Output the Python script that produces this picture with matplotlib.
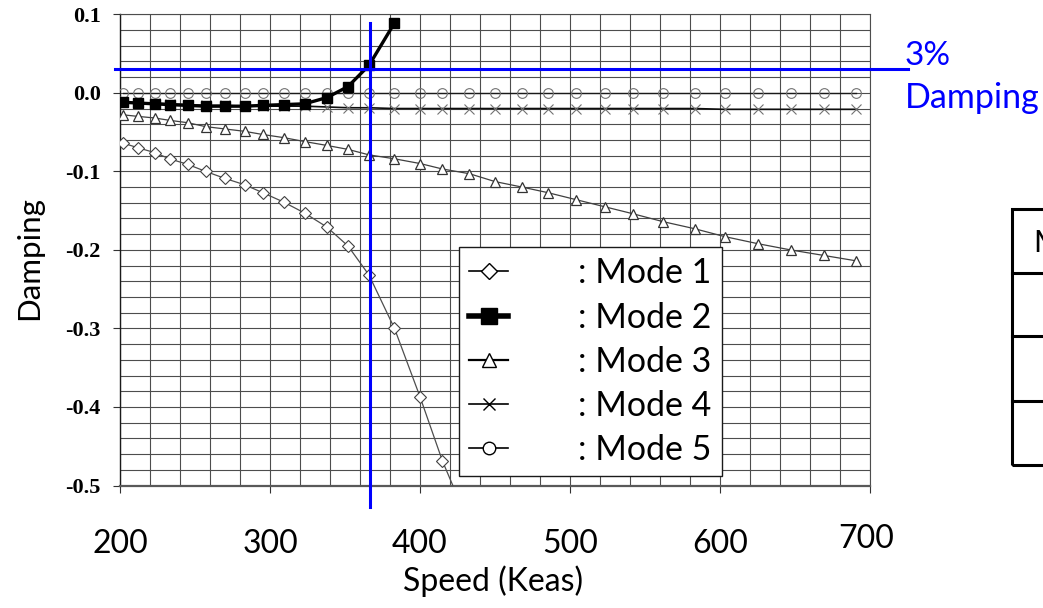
import numpy as np
import matplotlib
matplotlib.use('Agg')
import matplotlib.pyplot as plt
from matplotlib.lines import Line2D
from matplotlib.patches import Rectangle
from matplotlib.transforms import ScaledTranslation

plt.rcParams['font.family'] = ['Lato', 'DejaVu Sans']

# speed points (Keas) shared by all modes
speed = [202, 212, 223, 233, 245, 257, 270, 283, 295, 309, 323, 338, 352, 366, 383,
         400, 415, 433, 450, 468, 485, 504, 523, 542, 562, 583, 603, 625, 647, 669, 691]

mode1 = [-0.064, -0.070, -0.076, -0.084, -0.091, -0.100, -0.109, -0.117, -0.127,
         -0.139, -0.153, -0.171, -0.195, -0.232, -0.300, -0.387, -0.469, -0.55]
mode2 = [-0.012, -0.013, -0.014, -0.015, -0.016, -0.017, -0.017, -0.017, -0.016,
         -0.015, -0.014, -0.006, 0.008, 0.035, 0.089]
mode3 = [-0.028, -0.030, -0.032, -0.035, -0.038, -0.043, -0.046, -0.049, -0.053,
         -0.057, -0.062, -0.067, -0.072, -0.079, -0.084, -0.090, -0.097, -0.103,
         -0.113, -0.120, -0.127, -0.136, -0.145, -0.154, -0.164, -0.173, -0.183,
         -0.192, -0.200, -0.207, -0.214]
mode4 = [-0.012, -0.013, -0.013, -0.014, -0.015, -0.016, -0.016, -0.017, -0.017,
         -0.017, -0.017, -0.018, -0.019, -0.019, -0.020, -0.020, -0.020, -0.020,
         -0.020, -0.020, -0.020, -0.020, -0.020, -0.020, -0.020, -0.020, -0.021,
         -0.021, -0.021, -0.021, -0.021]
mode5 = [0.0] * len(speed)

legend_labels = [': Mode 1', ': Mode 2', ': Mode 3', ': Mode 4', ': Mode 5']
x_ticks = [200, 300, 400, 500, 600, 700]
y_ticks = [-0.5, -0.4, -0.3, -0.2, -0.1, 0.0, 0.1]

# reference lines
flutter_speed = 367
damping_limit = 0.03

W, H = 1043, 608
fig = plt.figure(figsize=(W / 100, H / 100), dpi=100)
ax = fig.add_axes([120 / W, 1 - 485.5 / H, 750 / W, 471.2 / H])

grid_c = '0.3'
ax.set_xlim(200, 700)
ax.set_ylim(-0.5, 0.1)
ax.set_xticks(x_ticks)
ax.set_xticks(np.arange(200, 701, 20), minor=True)
ax.set_yticks(y_ticks)
ax.set_yticks(np.arange(-0.5, 0.101, 0.02), minor=True)
ax.grid(True, which='both', color=grid_c, linewidth=0.8, zorder=0)
ax.set_axisbelow(True)
ax.tick_params(which='minor', length=0)
ax.tick_params(axis='x', which='major', direction='out', length=5, width=0.8,
               pad=26, labelsize=23, color='0.2')
ax.tick_params(axis='y', which='major', direction='out', length=5, width=0.8,
               pad=9, color='0.2')
ax.set_yticklabels(['%.1f' % v for v in y_ticks])
for lab in ax.get_yticklabels():
    lab.set_fontfamily('Liberation Serif')
    lab.set_fontweight('bold')
    lab.set_fontsize(16)
# the 700 label sits a bit higher in the original
lab700 = ax.get_xticklabels()[-1]
lab700.set_transform(lab700.get_transform() + ScaledTranslation(-0.04, 0.05, fig.dpi_scale_trans))

for side in ['top', 'right']:
    ax.spines[side].set_color(grid_c)
    ax.spines[side].set_linewidth(0.8)
ax.spines['left'].set_color('0.1')
ax.spines['left'].set_linewidth(1.0)
ax.spines['bottom'].set_color('0.35')
ax.spines['bottom'].set_linewidth(1.6)

ax.plot(speed[:len(mode1)], mode1, color='0.3', lw=0.9, marker='D', ms=6,
        mfc='white', mec='0.25', mew=0.8, zorder=3)
ax.plot(speed, mode3, color='0.25', lw=0.9, marker='^', ms=7.5,
        mfc='white', mec='0.2', mew=0.9, zorder=3)
ax.plot(speed, mode5, color='0.1', lw=1.0, marker='o', ms=7,
        mfc='none', mec='0.45', mew=0.8, zorder=3)
ax.plot(speed, mode4, color='0.05', lw=1.2, marker='x', ms=7,
        mec='0.45', mew=0.8, zorder=3)
ax.plot(speed[:len(mode2)], mode2, color='black', lw=2.4, marker='s', ms=7.5,
        mfc='black', mec='black', zorder=4)

ax.set_xlabel('Speed (Keas)', fontsize=23)
ax.xaxis.set_label_coords(0.497, -0.169)
ax.set_ylabel('Damping', fontsize=22.5)
ax.yaxis.set_label_coords(-0.103, 0.483)

# 3% damping and flutter speed lines
ax.plot([flutter_speed, flutter_speed], [0.089, -0.528], color='#0000ff', lw=2.2,
        clip_on=False, zorder=6)
ax.plot([196.5, 725.5], [damping_limit, damping_limit], color='#0000ff', lw=2.2,
        clip_on=False, zorder=6)
fig.text(905 / W, 1 - 65 / H, '3%', color='#0000ff', fontsize=24, va='baseline')
fig.text(905 / W, 1 - 108 / H, 'Damping', color='#0000ff', fontsize=24.5, va='baseline')

handles = [
    Line2D([], [], color='black', lw=1.2, marker='D', ms=8, mfc='white', mec='black', mew=1),
    Line2D([], [], color='black', lw=4, marker='s', ms=11, mfc='black', mec='black'),
    Line2D([], [], color='black', lw=1.6, marker='^', ms=10, mfc='white', mec='black', mew=1),
    Line2D([], [], color='black', lw=1.2, marker='x', ms=8, mec='black', mew=1),
    Line2D([], [], color='black', lw=1.2, marker='o', ms=9, mfc='white', mec='black', mew=1),
]
leg = ax.legend(handles, legend_labels, loc='upper left',
                bbox_to_anchor=(0.452, 0.506), borderaxespad=0, fontsize=24.5,
                handlelength=1.15, handletextpad=2.05, labelspacing=0.36,
                borderpad=0.3, fancybox=False, framealpha=1, edgecolor='0.1')
leg.get_frame().set_linewidth(1.0)
leg.set_zorder(5)

# partial table cut by the right edge
fig.add_artist(Rectangle((1012 / W, 1 - 465 / H), 60 / W, 256 / H, transform=fig.transFigure,
                         fill=False, edgecolor='black', linewidth=2.2))
for yy in [273, 336, 401]:
    fig.add_artist(Line2D([1012 / W, 1.0], [1 - yy / H, 1 - yy / H], transform=fig.transFigure,
                          color='black', lw=2.2))
fig.text(1033 / W, 1 - 252 / H, 'M', fontsize=22, va='baseline')

fig.savefig('out.png', dpi=100)
